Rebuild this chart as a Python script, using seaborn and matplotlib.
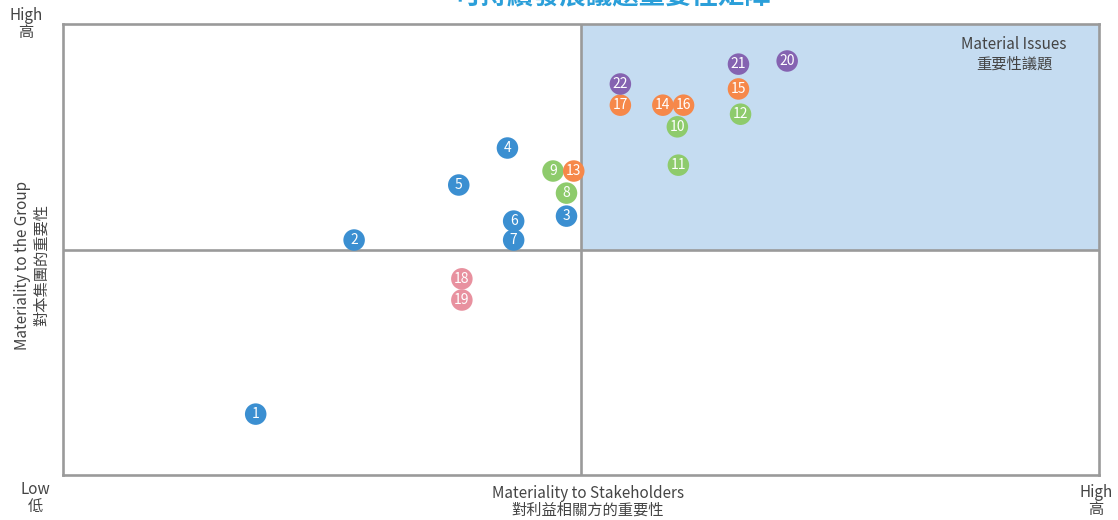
import pandas as pd
import matplotlib.pyplot as plt
import seaborn as sns

# issue numbers, stakeholder materiality (x) and group materiality (y), 0-100 scale
issue_ids = list(range(1, 23))
stakeholder_score = [18.6, 28.1, 48.6, 42.9, 38.2, 43.5, 43.5, 48.6, 47.3, 59.3, 59.4,
                     65.4, 49.3, 57.9, 65.2, 59.9, 53.8, 38.5, 38.5, 69.9, 65.2, 53.8]
group_score = [13.5, 52.1, 57.4, 72.5, 64.3, 56.3, 52.1, 62.5, 67.4, 77.2, 68.7,
               80.0, 67.4, 82.0, 85.6, 82.0, 82.0, 43.5, 38.8, 91.8, 91.1, 86.7]
issue_group = ["A"] * 7 + ["B"] * 5 + ["C"] * 5 + ["D"] * 2 + ["E"] * 3

group_colors = {"A": "#3b8fd1", "B": "#8ecb6c", "C": "#f6884a", "D": "#e8919f", "E": "#8563b1"}

df = pd.DataFrame({"id": issue_ids, "x": stakeholder_score, "y": group_score, "group": issue_group})

sns.set_style("white")
plt.rcParams["font.family"] = ["Noto Sans CJK TC", "DejaVu Sans"]
txt_color = "#444444"

fig = plt.figure(figsize=(11.18, 5.20), dpi=100)
ax = fig.add_axes([63 / 1118, 45 / 520, 1036 / 1118, 451 / 520])

# shaded "material issues" quadrant
ax.fill_between([50, 100], 50, 100, color="#c5dcf1", zorder=0, linewidth=0)

sns.scatterplot(data=df, x="x", y="y", hue="group", palette=group_colors,
                s=240, linewidth=0, legend=False, ax=ax, zorder=3)
for _, r in df.iterrows():
    ax.text(r["x"], r["y"], str(r["id"]), color="white", fontsize=10,
            ha="center", va="center", zorder=4)

ax.axvline(50, color="#9a9a9a", lw=1.9, zorder=2)
ax.axhline(50, color="#9a9a9a", lw=1.9, zorder=2)
ax.set_xlim(0, 100)
ax.set_ylim(0, 100)
ax.set_xticks([])
ax.set_yticks([])
ax.set_xlabel("")
ax.set_ylabel("")
for sp in ax.spines.values():
    sp.set_color("#9a9a9a")
    sp.set_linewidth(1.9)

ax.text((1014 - 63) / 10.36, 97.3, "Material Issues\n重要性議題", ha="center", va="top",
        fontsize=11, color=txt_color, linespacing=1.15, multialignment="center")

# axis descriptions
fig.text(588 / 1118, 1 - 502 / 520, "Materiality to Stakeholders\n對利益相關方的重要性",
         ha="center", va="center", fontsize=11, color=txt_color, linespacing=1.0)
fig.text(32 / 1118, 1 - 265 / 520, "Materiality to the Group\n對本集團的重要性",
         ha="center", va="center", fontsize=11, color=txt_color, rotation=90, linespacing=1.1)
fig.text(26 / 1118, 1 - 24 / 520, "High\n高", ha="center", va="center", fontsize=11,
         color=txt_color, linespacing=1.0)
fig.text(35 / 1118, 1 - 498 / 520, "Low\n低", ha="center", va="center", fontsize=11,
         color=txt_color, linespacing=1.0)
fig.text(1096 / 1118, 1 - 501 / 520, "High\n高", ha="center", va="center", fontsize=11,
         color=txt_color, linespacing=1.0)

# title sits partly above the canvas, as in the source image
fig.text(613 / 1118, 1 + 3 / 520, "可持續發展議題重要性矩陣", ha="center", va="center",
         fontsize=19, fontweight="bold", color="#2b9fd9")

fig.savefig("out.png", dpi=100)
